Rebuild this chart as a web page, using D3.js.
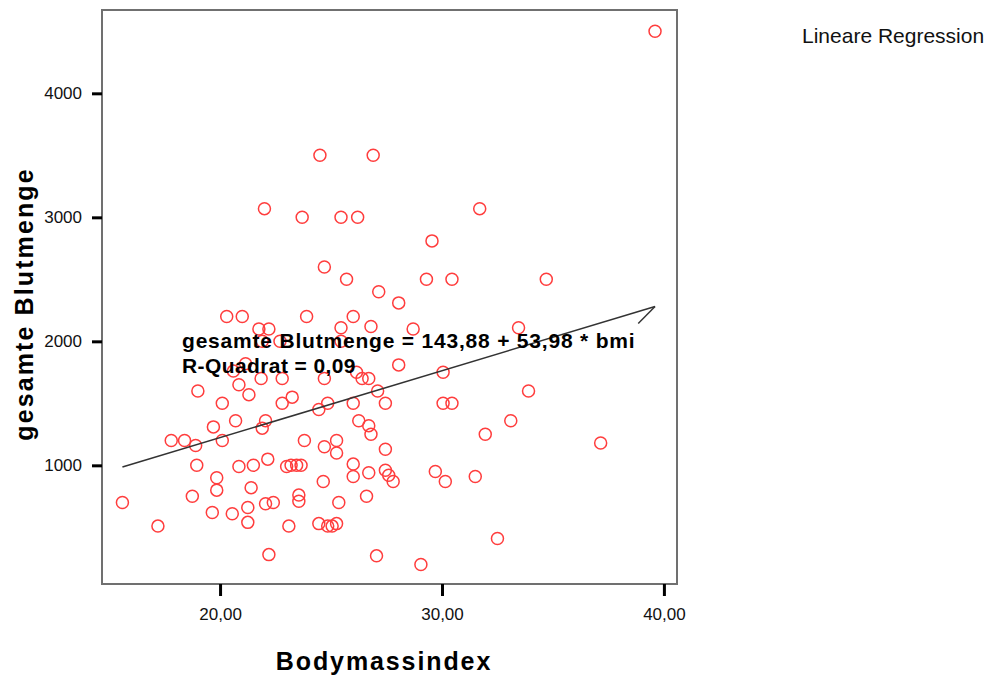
<!DOCTYPE html>
<html>
<head>
<meta charset="utf-8">
<script src="https://cdn.jsdelivr.net/npm/d3@7"></script>
<style>
  body { margin: 0; background: #fff; }
  #chart { width: 992px; height: 677px; }
  text { font-family: "Liberation Sans", Arial, sans-serif; }
</style>
</head>
<body>
<div id="chart"></div>
<script>
// Bodymassindex (x) per person
const bmi = [
  39.6, 24.5, 26.9, 22.0, 23.7, 25.45, 26.2, 31.7, 29.55, 24.7,
  25.7, 29.3, 30.45, 34.7, 27.15, 28.05, 26.0, 20.3, 21.0, 23.9,
  21.75, 22.2, 25.45, 26.8, 28.7, 33.45, 21.9, 22.7, 25.45, 21.15,
  20.6, 28.05, 21.85, 22.8, 24.7, 26.15, 26.4, 26.7, 30.05, 20.85,
  19.0, 27.1, 33.9, 21.3, 23.25, 20.1, 22.8, 24.85, 24.45, 26.0,
  27.45, 30.05, 30.45, 37.15, 20.7, 19.7, 22.05, 21.9, 17.8, 18.4,
  18.9, 20.1, 23.8, 24.7, 26.25, 26.7, 26.8, 33.1, 31.95, 25.25,
  25.25, 27.45, 18.95, 20.85, 21.5, 22.15, 23.0, 23.2, 23.45, 23.65,
  26.0, 19.85, 19.85, 21.4, 24.65, 26.0, 26.7, 27.45, 27.6, 27.8,
  29.7, 30.15, 31.5, 18.75, 23.55, 23.55, 15.6, 26.6, 25.35, 19.65,
  20.55, 21.25, 21.25, 22.05, 22.4, 17.2, 23.1, 24.45, 24.85, 25.05,
  25.25, 32.5, 22.2, 27.05, 29.05
];

// gesamte Blutmenge (y) per person, same order
const blutmenge = [
  4500, 3500, 3500, 3070, 3000, 3000, 3000, 3070, 2810, 2600,
  2500, 2500, 2500, 2500, 2400, 2310, 2200, 2200, 2200, 2200,
  2100, 2100, 2110, 2120, 2100, 2110, 2000, 2000, 2000, 1820,
  1760, 1810, 1700, 1700, 1700, 1750, 1700, 1700, 1750, 1650,
  1600, 1600, 1600, 1570, 1550, 1500, 1500, 1500, 1450, 1500,
  1500, 1500, 1500, 1180, 1360, 1310, 1360, 1300, 1200, 1200,
  1160, 1200, 1200, 1150, 1360, 1320, 1250, 1360, 1250, 1200,
  1100, 1130, 1000, 990, 1000, 1050, 990, 1000, 1000, 1000,
  1010, 900, 800, 820, 870, 910, 940, 960, 920, 870,
  950, 870, 910, 750, 760, 710, 700, 750, 700, 620,
  610, 660, 540, 690, 700, 510, 510, 530, 510, 510,
  530, 410, 280, 270, 200
];

// regression coefficients as printed on the chart
const intercept = 143.88;
const slope = 53.98;
const rSquared = "0,09";

const xTicks = [20, 30, 40];
const yTicks = [1000, 2000, 3000, 4000];
const xDomain = [14.68, 40.59];
const yDomain = [43, 4672];

(function () {
  ///////////////////////////////////////////////////////////// ! Setup
  const fullWidth = 992;
  const fullHeight = 677;
  const margin = { top: 10, right: 315, bottom: 93, left: 102 };
  const width = fullWidth - margin.left - margin.right;
  const height = fullHeight - margin.top - margin.bottom;

  const root = d3
    .select("#chart")
    .append("svg")
    .attr("width", fullWidth)
    .attr("height", fullHeight)
    .style("display", "block");

  const svg = root
    .append("g")
    .attr("transform", `translate(${margin.left},${margin.top})`);

  ///////////////////////////////////////////////////////////// ! Scales
  const xScale = d3.scaleLinear().domain(xDomain).range([0, width]);
  const yScale = d3.scaleLinear().domain(yDomain).range([height, 0]);

  ///////////////////////////////////////////////////////////// ! Frame + axes
  svg
    .append("rect")
    .attr("width", width)
    .attr("height", height)
    .attr("fill", "none")
    .attr("stroke", "#707070")
    .attr("stroke-width", 2);

  const xAxis = svg
    .append("g")
    .attr("transform", `translate(0,${height})`)
    .call(
      d3
        .axisBottom(xScale)
        .tickValues(xTicks)
        .tickSize(12)
        .tickPadding(12)
        .tickFormat((d) => d.toFixed(2).replace(".", ","))
    );

  const yAxis = svg
    .append("g")
    .call(
      d3
        .axisLeft(yScale)
        .tickValues(yTicks)
        .tickSize(10)
        .tickPadding(10)
        .tickFormat(d3.format("d"))
    );

  [xAxis, yAxis].forEach((axis) => {
    axis.select(".domain").remove();
    axis.selectAll(".tick line").attr("stroke", "#000").attr("stroke-width", 3);
    axis
      .selectAll(".tick text")
      .attr("fill", "#111")
      .style("font-size", "17px")
      .style("font-family", '"Liberation Sans", Arial, sans-serif');
  });

  // axis titles
  svg
    .append("text")
    .attr("x", 384 - margin.left)
    .attr("y", 670 - margin.top)
    .attr("text-anchor", "middle")
    .style("font-size", "25px")
    .style("font-weight", "bold")
    .style("letter-spacing", "1.9px")
    .text("Bodymassindex");

  svg
    .append("text")
    .attr("transform", `translate(${33 - margin.left},${304 - margin.top}) rotate(-90)`)
    .attr("text-anchor", "middle")
    .style("font-size", "25px")
    .style("font-weight", "bold")
    .style("letter-spacing", "2.1px")
    .text("gesamte Blutmenge");

  ///////////////////////////////////////////////////////////// ! Points
  const points = bmi.map((b, i) => ({ bmi: b, blut: blutmenge[i] }));

  svg
    .selectAll(".pt")
    .data(points)
    .enter()
    .append("circle")
    .attr("class", "pt")
    .attr("cx", (d) => xScale(d.bmi))
    .attr("cy", (d) => yScale(d.blut))
    .attr("r", 6)
    .attr("fill", "none")
    .attr("stroke", "#ff3d3d")
    .attr("stroke-width", 1.5);

  ///////////////////////////////////////////////////////////// ! Regression line
  const defs = root.append("defs");
  defs
    .append("marker")
    .attr("id", "barb")
    .attr("markerUnits", "userSpaceOnUse")
    .attr("orient", "auto")
    .attr("markerWidth", 40)
    .attr("markerHeight", 40)
    .attr("refX", 0)
    .attr("refY", 0)
    .attr("viewBox", "-30 -20 40 40")
    .append("path")
    .attr("d", "M0,0 L-21,11.4")
    .attr("fill", "none")
    .attr("stroke", "#333")
    .attr("stroke-width", 1.5);

  const [bMin, bMax] = d3.extent(bmi);
  const fitLine = [bMin, bMax].map((b) => ({ bmi: b, blut: intercept + slope * b }));

  svg
    .append("path")
    .datum(fitLine)
    .attr(
      "d",
      d3
        .line()
        .x((d) => xScale(d.bmi))
        .y((d) => yScale(d.blut))
    )
    .attr("fill", "none")
    .attr("stroke", "#333")
    .attr("stroke-width", 1.5)
    .attr("marker-end", "url(#barb)");

  ///////////////////////////////////////////////////////////// ! Annotations
  const fmt = (v) => v.toFixed(2).replace(".", ",");

  svg
    .append("text")
    .attr("x", 182 - margin.left)
    .attr("y", 348 - margin.top)
    .style("font-size", "21px")
    .style("font-weight", "bold")
    .style("letter-spacing", "0.8px")
    .text(`gesamte Blutmenge = ${fmt(intercept)} + ${fmt(slope)} * bmi`);

  svg
    .append("text")
    .attr("x", 182 - margin.left)
    .attr("y", 373 - margin.top)
    .style("font-size", "21px")
    .style("font-weight", "bold")
    .style("letter-spacing", "0.4px")
    .text(`R-Quadrat = ${rSquared}`);

  root
    .append("text")
    .attr("x", 802)
    .attr("y", 43)
    .attr("fill", "#111")
    .style("font-size", "21px")
    .text("Lineare Regression");
})();
</script>
</body>
</html>
